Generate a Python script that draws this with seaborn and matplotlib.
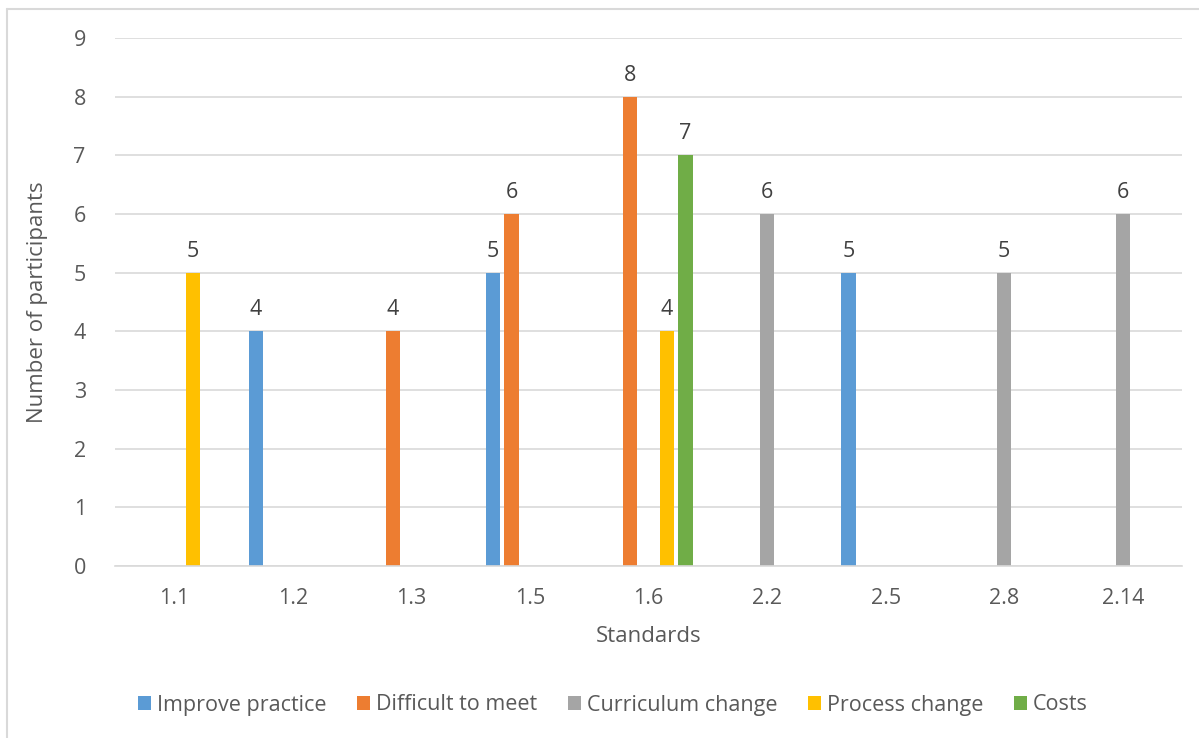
import matplotlib
matplotlib.use("Agg")
import matplotlib.pyplot as plt
import seaborn as sns
import pandas as pd
from matplotlib.lines import Line2D

# Standards assessed and the reasons participants gave for each
standards = ["1.1", "1.2", "1.3", "1.5", "1.6", "2.2", "2.5", "2.8", "2.14"]
reasons = ["Improve practice", "Difficult to meet", "Curriculum change",
           "Process change", "Costs"]

improve_practice = {"1.2": 4, "1.5": 5, "2.5": 5}
difficult_to_meet = {"1.3": 4, "1.5": 6, "1.6": 8}
curriculum_change = {"2.2": 6, "2.8": 5, "2.14": 6}
process_change = {"1.1": 5, "1.6": 4}
costs = {"1.6": 7}

palette = ["#5B9BD5", "#ED7D31", "#A5A5A5", "#FFC000", "#70AD47"]

rows = []
for reason, counts in zip(reasons, [improve_practice, difficult_to_meet,
                                    curriculum_change, process_change, costs]):
    for std, n in counts.items():
        rows.append({"Standard": std, "Reason": reason, "Participants": n})
df = pd.DataFrame(rows)

sns.set_theme(style="white")
plt.rcParams["font.family"] = ["Open Sans", "DejaVu Sans"]
text_color = "#595959"

fig = plt.figure(figsize=(11.99, 7.38), dpi=100)
ax = fig.add_axes([115 / 1199, 1 - 566 / 738, (1182 - 115) / 1199, (566 - 38) / 738])

sns.barplot(data=df, x="Standard", y="Participants", hue="Reason",
            order=standards, hue_order=reasons, palette=palette,
            width=0.78, gap=0.22, saturation=1, ax=ax, legend=True,
            linewidth=0, err_kws={"linewidth": 0})

for cont in ax.containers:
    ax.bar_label(cont, fmt="%d", padding=8, fontsize=15.5, color="#404040")

ax.set_ylim(0, 9)
ax.set_yticks(range(10))
ax.set_xlim(-0.5, len(standards) - 0.5)
ax.yaxis.grid(True, color="#D9D9D9", linewidth=1.2)
ax.set_axisbelow(True)
for side in ["left", "right", "top"]:
    ax.spines[side].set_visible(False)
ax.spines["bottom"].set_color("#D9D9D9")
ax.spines["bottom"].set_linewidth(1.2)
ax.tick_params(axis="both", length=0, labelsize=15.5, labelcolor=text_color)
ax.tick_params(axis="x", pad=16)
ax.tick_params(axis="y", pad=21)
ax.set_xlabel("Standards", fontsize=16, color=text_color, labelpad=12)
ax.set_ylabel("Number of participants", fontsize=16, color=text_color, labelpad=18)

ax.legend(loc="center", bbox_to_anchor=((613 - 115) / 1067, -(705 - 566) / 528),
          ncol=5, frameon=False, fontsize=15.5, handlelength=0.6,
          handleheight=0.6, handletextpad=0.3, columnspacing=1.4,
          labelcolor=text_color, borderaxespad=0)

# chart area border
fig.add_artist(Line2D([7 / 1199, 7 / 1199], [0, 1 - 9 / 738],
                      transform=fig.transFigure, color="#D9D9D9", linewidth=1.5))
fig.add_artist(Line2D([7 / 1199, 1], [1 - 9 / 738, 1 - 9 / 738],
                      transform=fig.transFigure, color="#D9D9D9", linewidth=1.5))

fig.savefig("out.png", dpi=100)
